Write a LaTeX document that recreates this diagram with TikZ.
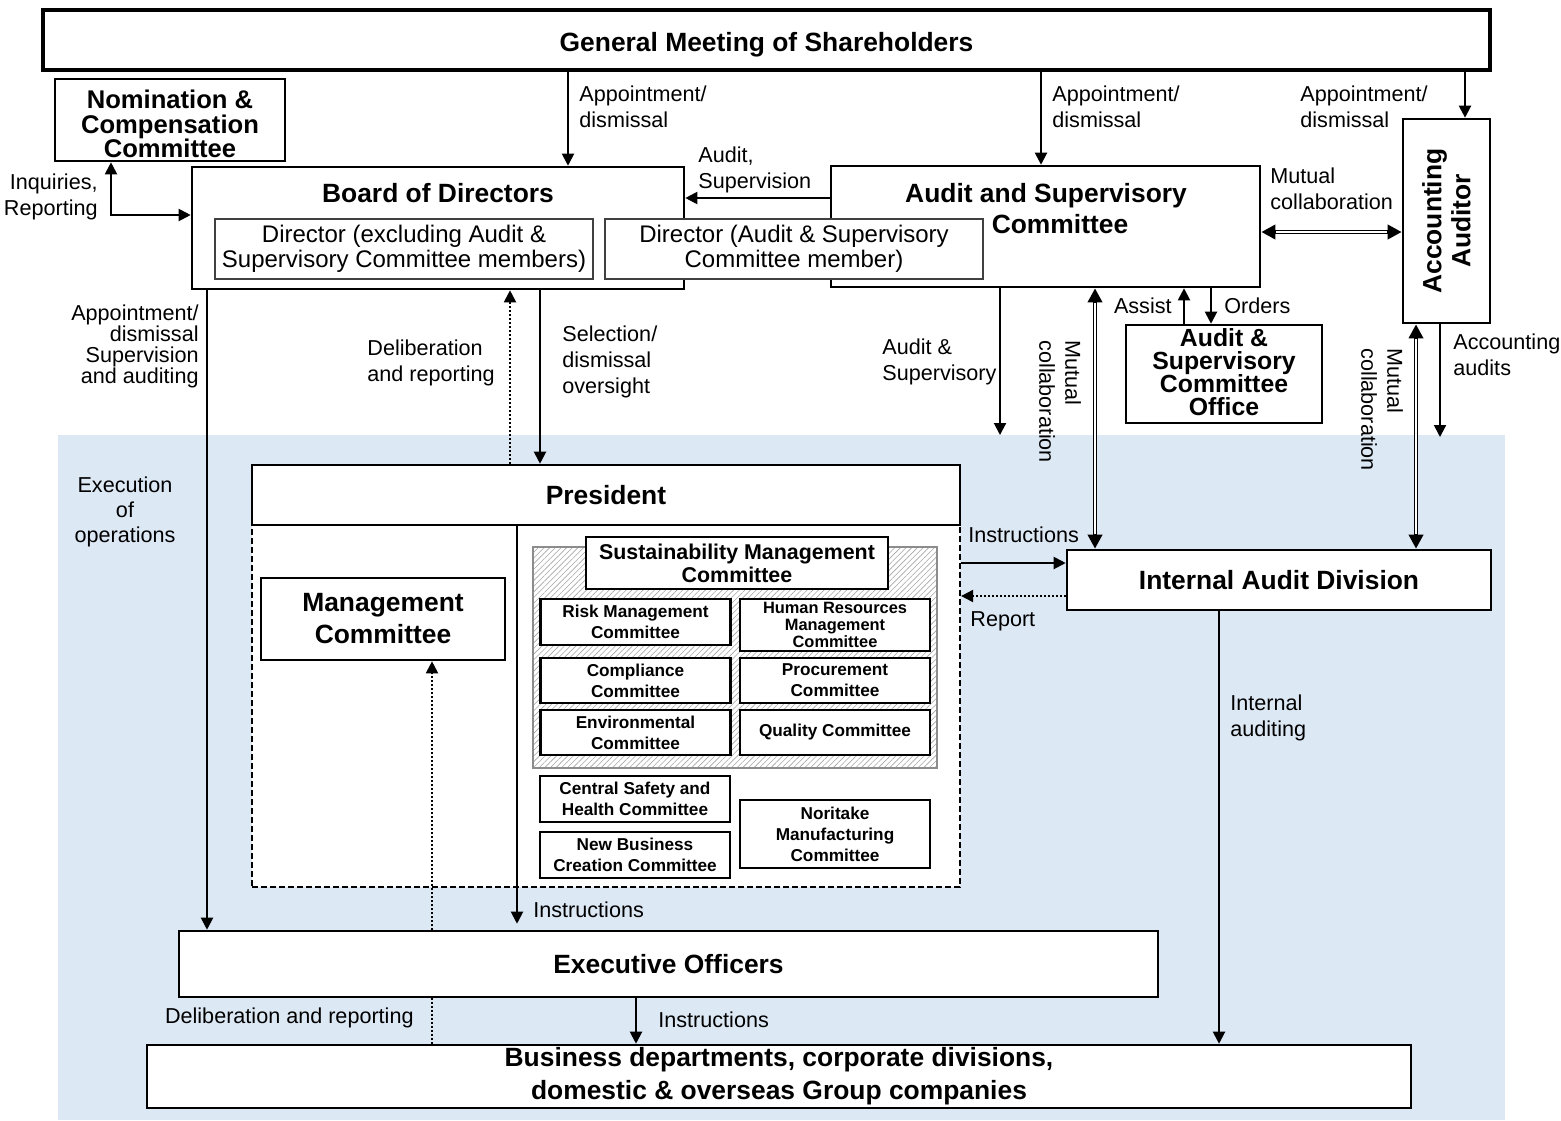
\documentclass[tikz,border=0pt]{standalone}
\usepackage{fontspec}
\setmainfont{Liberation Sans}
\usepackage{tikz}
\usetikzlibrary{arrows.meta, patterns.meta}

\definecolor{bgblue}{RGB}{221,232,245}
\newcommand{\tightlines}{\lineskiplimit=-20pt\relax}

\begin{document}
\begin{tikzpicture}[
    x=0.5pt, y=-0.5pt,
    box/.style={rectangle, draw=black, line width=1.3pt, fill=white, inner sep=0pt, align=center, font=\fontsize{13.2}{15.5}\selectfont\bfseries},
    title/.style={inner sep=0pt, align=center, font=\fontsize{13.2}{15.5}\selectfont\bfseries},
    dirbox/.style={rectangle, draw=black!75, line width=0.6pt, fill=white, inner sep=0pt, align=center, minimum width=189pt, minimum height=30pt, font=\fontsize{12}{12.5}\selectfont},
    subbox/.style={rectangle, draw=black, line width=1.1pt, fill=white, inner sep=0pt, align=center, minimum width=95pt, font=\fontsize{8.6}{10.5}\selectfont\bfseries},
    lbl/.style={inner sep=0pt, font=\fontsize{10.8}{13}\selectfont},
    arrow/.style={line width=1pt, -{Triangle[length=6pt, width=6pt]}},
    twoway/.style={line width=1pt, {Triangle[length=6pt, width=6pt]}-{Triangle[length=6pt, width=6pt]}},
    dotarrow/.style={arrow, dash pattern=on 1pt off 1pt},
    dblarrow/.style={line width=2.2pt, {Triangle[length=7pt, width=7pt]}-{Triangle[length=7pt, width=7pt]}},
    dblgap/.style={draw=white, line width=0.9pt, shorten <=7.5pt, shorten >=7.5pt}
]
    \useasboundingbox (0,0) rectangle (1561,1120);
    \fill[bgblue] (58,435) rectangle (1505,1120);

    % top level
    \node (gms) [box, line width=2pt, minimum width=723.5pt, minimum height=30pt] at (766.5,40) {};
    \node (gmst) [title] at (766.5,45) {General Meeting of Shareholders};
    \node (ncc) [box, minimum width=115pt, minimum height=41pt] at (170,120) {};
    \node (ncct) [title, font=\fontsize{12.8}{12.3}\selectfont\bfseries\tightlines] at (170,124) {Nomination \&\\Compensation\\Committee};
    \node (bod) [box, minimum width=246pt, minimum height=61pt] at (438,228) {};
    \node (bodt) [title] at (438,193) {Board of Directors};
    \node (asc) [box, minimum width=214.5pt, minimum height=60.5pt] at (1045.5,226.5) {};
    \node (asct) [title] at (1046,209) {Audit and Supervisory\\\hspace*{14pt}Committee};
    \node (dir1) [dirbox] at (404,249) {Director (excluding Audit \&\\Supervisory Committee members)};
    \node (dir2) [dirbox] at (794,249) {Director (Audit \& Supervisory\\Committee member)};
    \node (aa) [box, minimum width=43.5pt, minimum height=102pt] at (1446.5,221) {};
    \node (aat) [title, rotate=90, font=\fontsize{13.2}{14.5}\selectfont\bfseries] at (aa.center) {Accounting\\Auditor};
    \node (ascoff) [box, minimum width=98pt, minimum height=49pt] at (1224,374) {};
    \node (ascofft) [title, font=\fontsize{12.4}{11.6}\selectfont\bfseries\tightlines] at (1224,372) {Audit \&\\Supervisory\\Committee\\Office};

    % president and committees
    \node (pbody) [rectangle, draw=black, line width=1.1pt, dash pattern=on 3pt off 1.5pt, fill=white, minimum width=354pt, minimum height=181pt] at (606,706) {};
    \node (pres) [box, minimum width=354pt, minimum height=30pt] at (606,495) {President};
    \node (mc) [box, minimum width=122pt, minimum height=41pt, font=\fontsize{13.2}{16}\selectfont\bfseries] at (383,619) {Management\\Committee};
    \node (hatch) [rectangle, draw=black!45, line width=1.2pt, preaction={fill=white}, pattern={Lines[angle=45, distance=2pt, line width=0.3pt]}, pattern color=black!35, minimum width=202pt, minimum height=110.5pt] at (735,657.5) {};
    \node (smc) [box, minimum width=151pt, minimum height=26pt, font=\fontsize{10.7}{11.5}\selectfont\bfseries] at (737,563) {Sustainability Management\\Committee};
    \node (risk) [subbox, minimum height=23pt] at (635.5,622) {Risk Management\\Committee};
    \node (hrm) [subbox, minimum height=26pt, font=\fontsize{8.2}{8.6}\selectfont\bfseries\tightlines] at (835,625) {Human Resources\\Management\\Committee};
    \node (comp) [subbox, minimum height=22.5pt] at (635.5,680.5) {Compliance\\Committee};
    \node (proc) [subbox, minimum height=22.5pt] at (835,680.5) {Procurement\\Committee};
    \node (env) [subbox, minimum height=22.5pt] at (635.5,732.5) {Environmental\\Committee};
    \node (qual) [subbox, minimum height=22.5pt] at (835,732.5) {Quality Committee};
    \node (csh) [subbox, minimum height=23pt] at (635,799) {Central Safety and\\Health Committee};
    \node (nbc) [subbox, minimum height=23pt] at (635,855) {New Business\\Creation Committee};
    \node (nmc) [subbox, minimum height=34pt] at (835,834) {Noritake\\Manufacturing\\Committee};

    % execution side
    \node (iad) [box, minimum width=212pt, minimum height=30pt] at (1279,580) {Internal Audit Division};
    \node (eo) [box, minimum width=489.5pt, minimum height=33pt] at (668.5,964) {Executive Officers};
    \node (bus) [box, minimum width=632pt, minimum height=31.5pt, font=\fontsize{13.2}{16.5}\selectfont\bfseries] at (779,1076.5) {Business departments, corporate divisions,\\domestic \& overseas Group companies};

    % labels
    \node (lapp1) [lbl, anchor=west, align=left] at (579,107) {Appointment/\\dismissal};
    \node (lapp2) [lbl, anchor=west, align=left] at (1052,107) {Appointment/\\dismissal};
    \node (lapp3) [lbl, anchor=west, align=left] at (1300,107) {Appointment/\\dismissal};
    \node (linq) [lbl, anchor=east, align=right] at (98,197) {Inquiries,\\Reporting};
    \node (laud) [lbl, anchor=west, align=left] at (698,170) {Audit,\\Supervision};
    \node (lmut1) [lbl, anchor=west, align=left] at (1270,189) {Mutual\\collaboration};
    \node (lapp4) [lbl, anchor=east, align=right, font=\fontsize{10.8}{10.5}\selectfont] at (199,346) {Appointment/\\dismissal\\Supervision\\and auditing};
    \node (lexe) [lbl, align=center, font=\fontsize{10.8}{12.5}\selectfont] at (125,512) {Execution\\of\\operations};
    \node (ldel1) [lbl, anchor=west, align=left] at (367,363) {Deliberation\\and reporting};
    \node (lsel) [lbl, anchor=west, align=left] at (562,362) {Selection/\\dismissal\\oversight};
    \node (lasup) [lbl, anchor=west, align=left] at (882,362) {Audit \&\\Supervisory};
    \node (lmut2) [lbl, rotate=-90, anchor=west, align=left] at (1060,340) {Mutual\\collaboration};
    \node (lmut3) [lbl, rotate=-90, anchor=west, align=left] at (1382,348) {Mutual\\collaboration};
    \node (lass) [lbl, anchor=east] at (1172,306) {Assist};
    \node (lord) [lbl, anchor=west] at (1224,306) {Orders};
    \node (lacc) [lbl, anchor=west, align=left] at (1453,355) {Accounting\\audits};
    \node (lins1) [lbl, anchor=west] at (968,535) {Instructions};
    \node (lrep) [lbl, anchor=west] at (970,621) {Report};
    \node (lint) [lbl, anchor=west, align=left] at (1230,718) {Internal\\auditing};
    \node (lins2) [lbl, anchor=west] at (533,910) {Instructions};
    \node (ldel2) [lbl, anchor=east] at (414,1018) {Deliberation and reporting};
    \node (lins3) [lbl, anchor=west] at (658,1020) {Instructions};

    % connector positions
    \coordinate (cA) at (568,0);
    \coordinate (cB) at (1041,0);
    \coordinate (cC) at (1465,0);
    \coordinate (cD) at (111,215);
    \coordinate (cF) at (0,198);
    \coordinate (cG) at (0,232);
    \coordinate (cH) at (207,0);
    \coordinate (cI) at (540,0);
    \coordinate (cJ) at (510,0);
    \coordinate (cK) at (1000,435);
    \coordinate (cL) at (1095,0);
    \coordinate (cM) at (1184,0);
    \coordinate (cN) at (1211,0);
    \coordinate (cO) at (1416,0);
    \coordinate (cP) at (1440,437);
    \coordinate (cQ) at (0,563);
    \coordinate (cR) at (0,596);
    \coordinate (cS) at (1219,0);
    \coordinate (cT) at (432,0);
    \coordinate (cU) at (636,0);
    \coordinate (cV) at (517,0);

    % connectors
    \draw [arrow] (gms.south -| cA) -- (bod.north -| cA);
    \draw [arrow] (gms.south -| cB) -- (asc.north -| cB);
    \draw [arrow] (gms.south -| cC) -- (aa.north -| cC);
    \draw [twoway] (ncc.south -| cD) |- (bod.west |- cD);
    \draw [arrow] (asc.west |- cF) -- (bod.east |- cF);
    \draw [dblarrow] (asc.east |- cG) -- (aa.west |- cG);
    \draw [dblgap] (asc.east |- cG) -- (aa.west |- cG);
    \draw [arrow] (bod.south -| cH) -- (eo.north -| cH);
    \draw [arrow] (bod.south -| cI) -- (pres.north -| cI);
    \draw [dotarrow] (pres.north -| cJ) -- (bod.south -| cJ);
    \draw [arrow] (asc.south -| cK) -- (cK);
    \draw [dblarrow] (asc.south -| cL) -- (iad.north -| cL);
    \draw [dblgap] (asc.south -| cL) -- (iad.north -| cL);
    \draw [arrow] (ascoff.north -| cM) -- (asc.south -| cM);
    \draw [arrow] (asc.south -| cN) -- (ascoff.north -| cN);
    \draw [dblarrow] (aa.south -| cO) -- (iad.north -| cO);
    \draw [dblgap] (aa.south -| cO) -- (iad.north -| cO);
    \draw [arrow] (aa.south -| cP) -- (cP);
    \draw [arrow] (pbody.east |- cQ) -- (iad.west |- cQ);
    \draw [dotarrow] (iad.west |- cR) -- (pbody.east |- cR);
    \draw [arrow] (iad.south -| cS) -- (bus.north -| cS);
    \draw [dotarrow] (eo.north -| cT) -- (mc.south -| cT);
    \draw [line width=1pt, dash pattern=on 1pt off 1pt] (bus.north -| cT) -- (eo.south -| cT);
    \draw [arrow] (eo.south -| cU) -- (bus.north -| cU);
    \draw [arrow, shorten >=3pt] (pres.south -| cV) -- (eo.north -| cV);
\end{tikzpicture}
\end{document}
